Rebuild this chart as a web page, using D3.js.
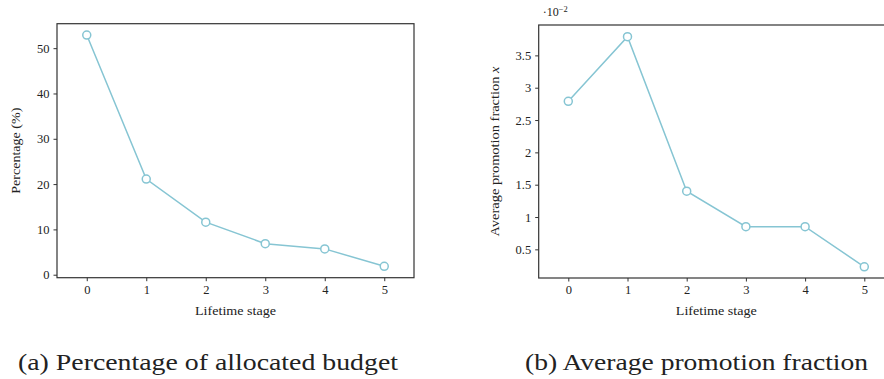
<!DOCTYPE html>
<html>
<head>
<meta charset="utf-8">
<script src="https://cdn.jsdelivr.net/npm/d3@7"></script>
<style>
  body { margin: 0; background: #fff; }
  svg text { font-family: "Liberation Serif", "DejaVu Serif", serif; fill: #222; }
</style>
</head>
<body>
<div id="chart"></div>
<script>
// data
var stages = [0, 1, 2, 3, 4, 5];
var budgetPct = [52.9, 21.1, 11.6, 6.85, 5.7, 1.85];
var promoFrac = [0.0279, 0.0379, 0.0140, 0.0085, 0.0085, 0.0023];
var budgetTicks = [0, 10, 20, 30, 40, 50];
var promoTicks = [0.005, 0.01, 0.015, 0.02, 0.025, 0.03, 0.035];

var lineColor = "#86c5d3";

var svg = d3.select("#chart").append("svg")
    .attr("width", 884)
    .attr("height", 379);

function panel(opts) {
    var g = svg.append("g")
        .attr("transform", "translate(" + opts.left + "," + opts.top + ")");
    var width = opts.width, height = opts.height;

    var x = d3.scaleLinear().domain([-0.5, 5.5]).range([0, width]);
    var y = d3.scaleLinear().domain(opts.yDomain).range([height, 0]);

    var xAxis = d3.axisBottom(x).tickValues(stages).tickSize(3.5).tickSizeOuter(0).tickPadding(4)
        .tickFormat(d3.format("d"));
    var yAxis = d3.axisLeft(y).tickValues(opts.yTicks).tickSize(3.5).tickSizeOuter(0).tickPadding(4)
        .tickFormat(opts.yFormat);

    g.append("g")
        .attr("class", "x axis")
        .attr("transform", "translate(0," + height + ")")
        .call(xAxis);

    g.append("g")
        .attr("class", "y axis")
        .call(yAxis);

    g.selectAll(".axis path").remove();
    g.selectAll(".axis line").style("stroke", "#333").style("stroke-width", 1);
    g.selectAll(".axis text").style("font-size", "12.5px").style("fill", "#222")
        .style("font-family", "'Liberation Serif', serif");

    // frame
    g.append("rect")
        .attr("width", width)
        .attr("height", height)
        .style("fill", "none")
        .style("stroke", "#333")
        .style("stroke-width", 1.2);

    var pts = stages.map(function (s, i) { return [s, opts.values[i]]; });

    g.append("path")
        .datum(pts)
        .attr("d", d3.line().x(function (d) { return x(d[0]); }).y(function (d) { return y(d[1]); }))
        .style("fill", "none")
        .style("stroke", lineColor)
        .style("stroke-width", 1.5);

    g.selectAll(".dot")
        .data(pts)
        .enter().append("circle")
        .attr("class", "dot")
        .attr("cx", function (d) { return x(d[0]); })
        .attr("cy", function (d) { return y(d[1]); })
        .attr("r", 4)
        .style("fill", "#fff")
        .style("stroke", lineColor)
        .style("stroke-width", 1.5);

    g.append("text")
        .attr("x", x(2.5))
        .attr("y", height + 37)
        .attr("text-anchor", "middle")
        .attr("textLength", 81)
        .attr("lengthAdjust", "spacingAndGlyphs")
        .style("font-size", "13.5px")
        .text("Lifetime stage");

    var yl = g.append("text")
        .attr("transform", "translate(" + opts.yLabelX + "," + (height / 2) + ") rotate(-90)")
        .attr("text-anchor", "middle")
        .attr("textLength", opts.yLabelLen)
        .attr("lengthAdjust", "spacingAndGlyphs")
        .style("font-size", "13.5px");
    yl.append("tspan").text(opts.yLabel);
    if (opts.yLabelItalic) {
        yl.append("tspan").style("font-style", "italic").text(" " + opts.yLabelItalic);
    }

    return {g: g, x: x, y: y};
}

panel({
    left: 57, top: 23.7, width: 357, height: 254,
    yDomain: [-0.66, 55.4],
    yTicks: budgetTicks,
    yFormat: d3.format("d"),
    values: budgetPct,
    yLabel: "Percentage (%)",
    yLabelLen: 86,
    yLabelX: -37
});

var right = panel({
    left: 538.7, top: 25, width: 355.2, height: 253,
    yDomain: [0.00057, 0.0397],
    yTicks: promoTicks,
    yFormat: function (d) { return d3.format("~g")(+(d * 100).toFixed(2)); },
    values: promoFrac,
    yLabel: "Average promotion fraction",
    yLabelItalic: "x",
    yLabelLen: 170,
    yLabelX: -40
});

// exponent label
var ex = right.g.append("text")
    .attr("x", 4)
    .attr("y", -9)
    .style("font-size", "12px");
ex.append("tspan").text("\u00b710");
ex.append("tspan").attr("dy", -4).style("font-size", "8.5px").text("\u22122");

// captions
svg.append("text")
    .attr("x", 208)
    .attr("y", 370)
    .attr("text-anchor", "middle")
    .attr("textLength", 380)
    .attr("lengthAdjust", "spacingAndGlyphs")
    .style("font-size", "23px")
    .text("(a) Percentage of allocated budget");

svg.append("text")
    .attr("x", 696.5)
    .attr("y", 370)
    .attr("text-anchor", "middle")
    .attr("textLength", 343)
    .attr("lengthAdjust", "spacingAndGlyphs")
    .style("font-size", "23px")
    .text("(b) Average promotion fraction");
</script>
</body>
</html>
